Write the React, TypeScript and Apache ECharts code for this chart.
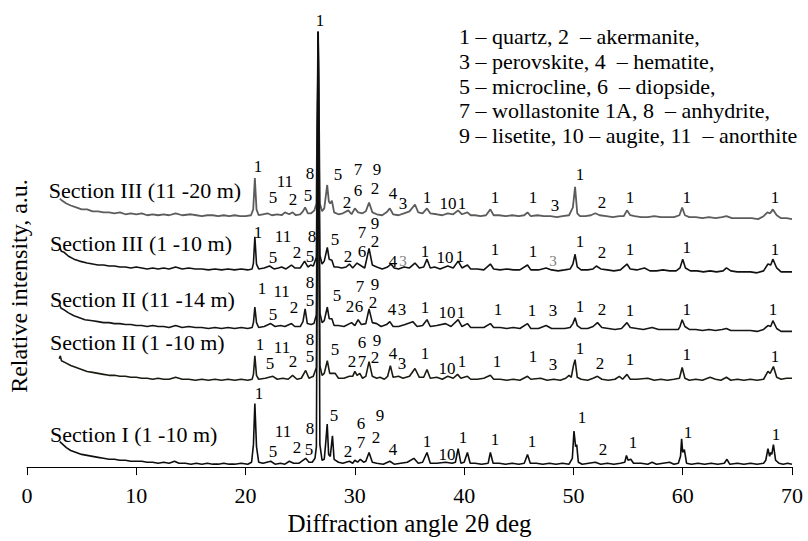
import React, { useEffect, useRef } from "react";
import * as echarts from "echarts";

const FONT = "Liberation Serif";

// x axis
const xMin = 0;
const xMax = 70;
const xStep = 10;

// sample names and vertical offsets of the stacked patterns (a.u.)
const sectionNames = [
  "Section III (11 -20 m)",
  "Section III (1 -10 m)",
  "Section II (11 -14 m)",
  "Section II (1 -10 m)",
  "Section I (1 -10 m)",
];
const offsets = [258, 203, 144, 90, 3];
const traceColors = ["#5c5c5c", "#111111", "#151515", "#1c1b12", "#0e0e0e"];

// [2θ, intensity above own baseline]
const traceA = [
  [3.0,17],[3.2,15],[3.6,12],[4.0,10],[4.5,8],[5.0,6],[5.5,6],[6.0,4],[6.5,4],[7.0,3],[7.5,3],[8.0,2],[8.5,3],[9.0,1],[9.5,2],[10.0,1],[10.5,2],[11.0,0],[11.5,1],[12.0,0],[12.5,1],[13.0,0],[13.6,2],[14.2,0],[15.0,1],[15.5,0],[16.0,-1],[16.5,0],[17.0,0],[17.5,-1],[18.0,0],[18.5,-1],[19.0,0],[19.5,-1],[20.0,-1],[20.5,0],[20.7,6],[20.85,38],[21.0,6],[21.2,0],[21.6,1],[22.0,2],[22.4,0],[22.9,1],[23.3,0],[23.6,3],[24.0,1],[24.3,3],[24.6,0],[25.0,1],[25.25,4],[25.45,8],[25.7,2],[26.0,2],[26.3,5],[26.48,12],[26.64,188],[26.8,12],[27.0,4],[27.2,7],[27.47,31],[27.62,14],[27.75,12],[27.9,15],[28.1,3],[28.5,1],[28.9,2],[29.4,5],[29.7,1],[30.0,7],[30.3,3],[30.7,2],[31.0,4],[31.3,13],[31.6,3],[32.0,1],[32.5,0],[32.9,3],[33.2,7],[33.5,1],[34.0,0],[34.5,2],[35.0,4],[35.5,11],[35.8,3],[36.2,2],[36.6,7],[36.9,2],[37.5,1],[38.0,0],[38.5,2],[39.0,1],[39.45,5],[39.8,1],[40.3,3],[40.6,0],[41.0,0],[41.5,-1],[42.0,0],[42.4,6],[42.7,0],[43.2,0],[43.8,-1],[44.4,0],[45.0,-1],[45.5,0],[45.8,3],[46.1,-1],[46.7,0],[47.3,-1],[47.9,-1],[48.5,-2],[49.0,-1],[49.6,0],[49.95,8],[50.15,29],[50.35,2],[50.6,-1],[51.1,-1],[51.6,0],[52.0,2],[52.4,0],[53.0,-1],[53.6,-2],[54.2,-1],[54.6,-1],[54.9,5],[55.2,0],[55.6,-1],[56.2,-2],[56.8,-2],[57.4,-1],[58.0,-2],[58.6,-2],[59.2,-2],[59.7,0],[59.95,8],[60.2,0],[60.6,-2],[61.2,-2],[61.8,-3],[62.4,-2],[63.0,-3],[63.6,-2],[64.0,-1],[64.5,-3],[65.1,-3],[65.7,-3],[66.3,-3],[66.9,-4],[67.4,-1],[67.75,3],[68.0,2],[68.25,6],[68.6,0],[69.0,-3],[69.5,-3],[70.0,-4],
];
const traceB = [
  [3.0,22],[3.15,18],[3.4,17],[3.8,13],[4.3,10],[4.8,8],[5.5,6],[6.0,5],[6.5,4],[7.0,4],[7.5,3],[8.0,3],[8.5,2],[9.0,2],[9.5,1],[10.0,2],[10.5,1],[11.0,0],[11.5,1],[12.0,0],[12.5,1],[13.0,0],[13.6,2],[14.2,0],[14.8,1],[15.4,0],[16.0,0],[16.6,-1],[17.2,0],[17.8,-1],[18.4,0],[19.0,-1],[19.6,0],[20.2,-1],[20.6,0],[20.72,6],[20.85,33],[21.0,5],[21.2,0],[21.7,1],[22.2,3],[22.6,0],[23.0,1],[23.3,2],[23.7,0],[24.2,4],[24.5,1],[25.0,1],[25.4,8],[25.7,2],[25.95,4],[26.2,3],[26.48,12],[26.64,243],[26.8,14],[27.0,5],[27.2,8],[27.48,22],[27.65,10],[27.9,9],[28.1,2],[28.4,2],[28.8,1],[29.2,2],[29.5,5],[29.8,1],[30.2,6],[30.6,3],[30.9,1],[31.3,21],[31.6,4],[32.0,2],[32.5,0],[33.0,2],[33.3,5],[33.6,1],[34.0,0],[34.5,2],[35.0,1],[35.5,6],[35.9,1],[36.3,2],[36.6,10],[36.9,1],[37.3,2],[37.8,0],[38.5,3],[39.0,1],[39.45,8],[39.8,1],[40.3,4],[40.6,0],[41.2,0],[41.8,-1],[42.4,5],[42.7,0],[43.3,-1],[43.9,0],[44.5,-1],[45.1,-1],[45.8,4],[46.1,-1],[46.8,-1],[47.5,1],[48.0,-1],[48.6,-2],[49.2,-1],[49.7,0],[49.95,5],[50.15,15],[50.35,2],[50.7,-1],[51.3,-1],[51.8,0],[52.1,3],[52.5,0],[53.1,-1],[53.7,-2],[54.3,-1],[54.9,5],[55.2,0],[55.8,-1],[56.5,1],[57.0,-2],[57.6,-2],[58.2,-1],[58.8,-2],[59.4,-2],[59.75,1],[60.0,10],[60.25,1],[60.7,-2],[61.3,-2],[61.9,-3],[62.5,-2],[63.1,-3],[63.7,-2],[64.0,1],[64.4,-2],[65.0,-3],[65.6,-3],[66.2,-3],[66.8,-4],[67.4,-2],[67.8,5],[68.05,4],[68.25,10],[68.6,1],[69.0,-3],[69.5,-3],[70.0,-3],
];
const traceC = [
  [3.0,22],[3.1,19],[3.4,17],[3.8,14],[4.3,11],[4.8,9],[5.3,7],[6.0,6],[6.5,5],[7.0,4],[7.5,4],[8.0,3],[8.5,3],[9.0,2],[9.5,2],[10.0,1],[10.5,1],[11.0,0],[11.5,1],[12.0,0],[12.5,0],[13.0,-1],[13.6,1],[14.2,-1],[14.8,0],[15.4,-1],[16.0,-1],[16.6,-2],[17.2,-1],[17.8,-2],[18.4,-1],[19.0,-2],[19.6,-1],[20.2,-2],[20.6,-1],[20.72,4],[20.85,20],[21.0,4],[21.2,-1],[21.7,0],[22.3,3],[22.7,0],[23.2,1],[23.6,0],[24.2,3],[24.5,0],[25.0,0],[25.25,5],[25.45,18],[25.65,3],[26.0,2],[26.25,3],[26.48,12],[26.64,302],[26.8,14],[27.0,4],[27.2,6],[27.48,20],[27.65,8],[27.9,8],[28.1,1],[28.5,1],[29.0,0],[29.7,4],[30.0,1],[30.3,7],[30.6,2],[31.0,3],[31.3,18],[31.6,4],[32.0,3],[32.4,0],[32.9,2],[33.2,5],[33.5,0],[34.0,0],[34.6,2],[35.3,5],[35.7,0],[36.2,1],[36.6,7],[36.9,0],[37.5,1],[38.3,3],[38.8,0],[39.45,7],[39.8,0],[40.3,3],[40.6,-1],[41.2,-1],[41.8,-1],[42.4,3],[42.7,-1],[43.3,-1],[43.9,-2],[44.5,-1],[45.1,-2],[45.8,3],[46.1,-2],[46.8,-2],[47.5,1],[48.0,-2],[48.6,-2],[49.2,-2],[49.7,-1],[49.95,3],[50.15,9],[50.35,1],[50.7,-2],[51.3,-2],[51.8,0],[52.2,4],[52.6,-1],[53.2,-2],[53.8,-3],[54.4,-2],[54.9,4],[55.2,-1],[55.8,-2],[56.4,-3],[57.2,-1],[57.8,-3],[58.4,-3],[59.0,-3],[59.6,-3],[59.75,0],[59.95,7],[60.2,0],[60.6,-3],[61.2,-3],[61.8,-4],[62.4,-3],[63.0,-4],[63.6,-3],[64.0,-2],[64.4,-4],[65.0,-4],[65.6,-4],[66.2,-4],[66.8,-5],[67.4,-3],[67.8,1],[68.05,0],[68.25,6],[68.6,-2],[69.0,-5],[69.5,-5],[70.0,-5],
];
const traceD = [
  [2.95,21],[3.05,24],[3.15,19],[3.5,17],[4.0,14],[4.5,12],[5.0,10],[5.5,8],[6.0,7],[6.5,6],[7.0,5],[7.5,4],[8.0,4],[8.5,3],[9.0,3],[9.5,2],[10.0,2],[10.5,1],[11.0,1],[11.5,0],[12.0,1],[12.5,0],[13.0,0],[13.6,2],[14.2,0],[14.8,0],[15.4,-1],[16.0,0],[16.6,-1],[17.2,0],[17.8,-1],[18.4,0],[19.0,-1],[19.6,0],[20.2,-1],[20.6,0],[20.72,5],[20.85,24],[21.0,4],[21.2,0],[21.8,1],[22.5,3],[22.9,0],[23.4,1],[23.9,0],[24.3,4],[24.7,0],[25.1,1],[25.5,9],[25.8,1],[26.2,3],[26.48,12],[26.64,356],[26.8,14],[27.0,4],[27.2,6],[27.48,19],[27.7,6],[28.2,6],[28.5,1],[29.0,1],[29.5,3],[29.8,3],[30.0,8],[30.2,4],[30.45,6],[30.7,1],[31.0,3],[31.3,18],[31.6,3],[32.0,1],[32.3,2],[32.7,0],[33.0,3],[33.25,14],[33.5,2],[34.0,3],[34.4,1],[35.0,3],[35.5,11],[35.9,2],[36.3,2],[36.6,10],[36.9,1],[37.5,2],[38.0,0],[38.5,3],[39.0,1],[39.4,5],[39.7,1],[40.3,3],[40.6,0],[41.2,0],[41.8,1],[42.4,4],[42.7,0],[43.3,0],[43.9,-1],[44.5,0],[45.1,-1],[45.8,3],[46.1,0],[47.0,1],[47.6,-1],[48.2,0],[48.8,-1],[49.3,1],[49.6,4],[49.8,2],[50.0,14],[50.15,20],[50.35,2],[50.7,0],[51.3,-1],[51.8,1],[52.2,3],[52.6,0],[53.2,-1],[53.8,0],[54.2,3],[54.5,0],[54.9,5],[55.2,0],[55.8,0],[56.8,1],[57.4,-1],[58.0,0],[58.6,-1],[59.2,0],[59.7,1],[59.95,12],[60.2,1],[60.6,-1],[61.2,0],[61.8,-1],[62.5,2],[63.0,0],[63.5,-1],[64.0,2],[64.4,-1],[65.0,0],[65.6,-1],[66.2,0],[66.8,-1],[67.4,0],[67.8,8],[68.0,6],[68.3,13],[68.6,2],[69.0,0],[69.5,1],[70.0,1],
];
const traceE = [
  [3.0,23],[3.2,21],[3.6,17],[4.0,14],[4.5,12],[5.0,10],[5.5,9],[6.0,8],[6.5,7],[7.0,6],[7.5,5],[8.0,5],[8.5,4],[9.0,4],[9.5,3],[10.0,3],[10.5,3],[11.0,2],[11.5,2],[12.0,1],[12.5,2],[13.0,1],[13.5,3],[13.9,1],[14.5,1],[15.0,0],[15.5,1],[16.0,0],[16.5,1],[17.0,0],[17.5,0],[18.0,1],[18.5,0],[19.0,0],[19.6,1],[20.2,0],[20.55,2],[20.72,20],[20.85,62],[21.0,18],[21.2,2],[21.6,1],[22.3,3],[22.7,0],[23.2,1],[23.6,0],[24.0,3],[24.4,1],[24.9,1],[25.5,6],[25.8,2],[26.1,2],[26.35,6],[26.48,18],[26.64,443],[26.8,20],[27.0,4],[27.2,5],[27.32,20],[27.47,41],[27.6,10],[27.75,8],[27.95,29],[28.1,5],[28.5,2],[28.9,1],[29.5,3],[29.8,1],[30.0,4],[30.25,2],[30.5,5],[30.8,2],[31.0,3],[31.3,12],[31.6,2],[32.0,1],[32.6,0],[33.2,3],[33.6,0],[34.2,1],[34.8,2],[35.4,6],[35.8,1],[36.2,2],[36.6,12],[36.9,1],[37.5,1],[38.3,2],[38.9,1],[39.2,2],[39.45,16],[39.7,1],[40.0,2],[40.3,12],[40.55,1],[41.0,1],[41.6,0],[42.2,1],[42.4,12],[42.65,1],[43.2,1],[43.8,0],[44.4,1],[45.0,0],[45.5,1],[45.8,10],[46.05,1],[46.6,1],[47.2,0],[47.8,1],[48.4,0],[49.0,1],[49.6,0],[49.9,6],[50.05,34],[50.2,18],[50.3,20],[50.45,2],[50.8,0],[51.4,1],[52.0,2],[52.5,0],[53.1,1],[53.7,0],[54.3,1],[54.7,2],[54.85,9],[55.0,4],[55.25,5],[55.5,1],[56.2,1],[56.8,0],[57.2,2],[57.6,0],[58.2,1],[58.8,2],[59.2,0],[59.6,1],[59.8,8],[59.9,26],[60.0,12],[60.15,15],[60.35,1],[60.8,0],[61.4,1],[62.0,0],[62.6,1],[63.2,0],[63.8,1],[64.05,5],[64.3,0],[65.0,1],[65.6,0],[66.2,1],[66.8,0],[67.4,1],[67.6,4],[67.8,16],[67.95,8],[68.05,12],[68.15,10],[68.3,20],[68.5,4],[68.8,1],[69.2,0],[69.6,1],[70.0,0],
];
const traces = [traceA, traceB, traceC, traceD, traceE];

// phase numbers: [2θ, a.u., text]
const peakLabels: [number, number, string][] = [
  [26.81, 458, "1"],
  // Section III (11-20 m)
  [21.13, 308, "1"], [22.51, 276, "5"], [23.6, 293, "11"], [24.34, 274, "2"], [25.89, 301, "8"], [25.71, 278, "5"],
  [28.45, 300, "5"], [29.28, 271, "2"], [30.28, 305, "7"], [30.28, 283, "6"], [32.02, 305, "9"], [31.84, 285, "2"],
  [33.49, 280, "4"], [34.4, 270, "3"], [36.6, 276, "1"], [38.52, 270, "10"], [39.8, 270, "1"], [42.82, 276, "1"],
  [46.29, 276, "1"], [48.31, 268, "3"], [50.59, 300, "1"], [52.61, 271, "2"], [55.17, 276, "1"], [60.38, 276, "1"], [68.44, 276, "1"],
  // Section III (1-10 m)
  [21.13, 240, "1"], [23.42, 236, "11"], [22.51, 215, "5"], [24.7, 220, "2"], [26.08, 236, "8"], [25.89, 216, "5"],
  [28.18, 233, "5"], [30.65, 240, "7"], [31.84, 250, "9"], [29.37, 216, "2"], [30.65, 221, "6"], [31.84, 231, "2"],
  [33.49, 211, "4"], [36.41, 221, "1"], [38.24, 215, "10"], [39.62, 216, "1"], [42.82, 223, "1"],
  [46.29, 221, "1"], [50.59, 231, "1"], [52.61, 220, "2"], [55.17, 223, "1"], [60.38, 225, "1"], [68.44, 223, "1"],
  // Section II (11-14 m)
  [21.5, 183, "1"], [23.3, 180, "11"], [24.44, 163, "2"], [22.51, 156, "5"], [25.89, 189, "8"], [25.89, 171, "5"],
  [28.36, 176, "5"], [30.47, 185, "7"], [31.84, 187, "9"], [29.55, 165, "2"], [30.38, 165, "6"], [31.66, 169, "2"],
  [33.39, 161, "4"], [34.31, 161, "3"], [36.41, 163, "1"], [38.43, 158, "10"], [39.71, 158, "1"], [43.09, 161, "1"],
  [46.2, 160, "1"], [48.12, 160, "3"], [50.59, 165, "1"], [52.61, 161, "2"], [55.17, 160, "1"], [60.38, 161, "1"], [68.25, 161, "1"],
  // Section II (1-10 m)
  [21.32, 126, "1"], [23.33, 123, "11"], [22.23, 106, "5"], [24.34, 108, "2"], [25.89, 131, "8"], [25.89, 113, "5"],
  [28.18, 120, "5"], [30.65, 128, "6"], [32.02, 130, "9"], [29.73, 108, "2"], [30.65, 108, "7"], [31.84, 112, "2"],
  [33.49, 116, "4"], [34.31, 106, "3"], [36.41, 116, "1"], [38.43, 101, "10"], [39.8, 108, "1"], [43.0, 108, "1"],
  [46.29, 113, "1"], [48.12, 105, "3"], [50.59, 122, "1"], [52.42, 106, "2"], [55.17, 110, "1"], [60.38, 115, "1"], [68.44, 113, "1"],
  // Section I (1-10 m)
  [21.23, 75, "1"], [23.42, 36, "11"], [22.51, 16, "5"], [24.7, 20, "2"], [25.89, 40, "8"], [25.8, 18, "5"],
  [28.09, 53, "5"], [30.56, 45, "6"], [32.3, 53, "9"], [29.37, 16, "2"], [30.56, 25, "7"], [31.93, 30, "2"],
  [33.49, 18, "4"], [36.6, 26, "1"], [38.43, 13, "10"], [39.89, 30, "1"], [42.82, 28, "1"],
  [46.2, 26, "1"], [50.78, 51, "1"], [52.7, 18, "2"], [55.44, 25, "1"], [60.48, 35, "1"], [68.53, 33, "1"],
];
// faint phase numbers of Section III (1-10 m)
const faintLabels: [number, number, string][] = [
  [34.4, 211, "3"], [48.12, 211, "3"],
];
const sectionLabelPos: [number, number][] = [
  [2.0, 283], [2.1, 229], [2.1, 172], [2.1, 128], [2.1, 33],
];

const legendLines = [
  "1 – quartz, 2  – akermanite,",
  "3 – perovskite, 4  – hematite,",
  "5 – microcline, 6  – diopside,",
  "7 – wollastonite 1A, 8  – anhydrite,",
  "9 – lisetite, 10 – augite, 11  – anorthite",
];
const legendY = [36, 61, 86, 110, 135];

const xTitle = "Diffraction angle 2θ deg";
const yTitle = "Relative intensity, a.u.";

export default function App() {
  const ref = useRef<HTMLDivElement>(null);
  useEffect(() => {
    if (!ref.current) return;
    const chart = echarts.init(ref.current, undefined, { renderer: "svg" });

    const lineSeries = traces.map((t, i) => ({
      type: "line",
      name: sectionNames[i],
      data: t.map(([x, y]) => [x, y + offsets[i]]),
      showSymbol: false,
      symbol: "none",
      lineStyle: { color: traceColors[i], width: i === 0 ? 1.8 : 1.6 },
      itemStyle: { color: traceColors[i] },
      z: 2 + i,
      silent: true,
      clip: false,
    }));

    chart.setOption({
      animation: false,
      backgroundColor: "#ffffff",
      grid: { left: 27, right: 16, top: 20, bottom: 63, containLabel: false },
      xAxis: {
        type: "value",
        min: xMin,
        max: xMax,
        interval: xStep,
        axisLine: { show: true, lineStyle: { color: "#000", width: 1 } },
        axisTick: { show: true, inside: false, length: 8, lineStyle: { color: "#000" } },
        axisLabel: { fontFamily: FONT, fontSize: 22, color: "#000", margin: 17 },
        splitLine: { show: false },
        name: xTitle,
        nameLocation: "middle",
        nameGap: 37,
        nameTextStyle: { fontFamily: FONT, fontSize: 25, color: "#000" },
      },
      yAxis: {
        type: "value",
        min: 0,
        max: 458,
        show: false,
      },
      series: lineSeries,
    });

    // annotation texts placed through the chart's own axes
    const toPx = (x: number, y: number) =>
      chart.convertToPixel({ gridIndex: 0 }, [x, y]) as number[];

    const textEl = (
      x: number,
      y: number,
      text: string,
      size: number,
      fill: string,
      align: string
    ) => ({
      type: "text",
      x,
      y,
      silent: true,
      z: 100,
      style: {
        text,
        fontFamily: FONT,
        fontSize: size,
        fill,
        align,
        verticalAlign: "middle",
      },
    });

    const graphics: any[] = [];
    peakLabels.forEach(([x, y, t]) => {
      const [px, py] = toPx(x, y);
      graphics.push(textEl(px, py, t, 17, "#000", "center"));
    });
    faintLabels.forEach(([x, y, t]) => {
      const [px, py] = toPx(x, y);
      graphics.push(textEl(px, py, t, 15, "#808080", "center"));
    });
    sectionLabelPos.forEach(([x, y], i) => {
      const [px, py] = toPx(x, y);
      graphics.push(textEl(px, py, sectionNames[i], 22, "#000", "left"));
    });
    legendLines.forEach((t, i) => {
      graphics.push(textEl(459, legendY[i], t, 22, "#000", "left"));
    });
    graphics.push({
      ...textEl(19, 286, yTitle, 24, "#000", "center"),
      rotation: Math.PI / 2,
    });

    chart.setOption({ graphic: graphics });
    return () => chart.dispose();
  }, []);
  return (
    <div
      ref={ref}
      style={{ position: "fixed", left: 0, top: 0, width: 808, height: 541, background: "#fff" }}
    />
  );
}
